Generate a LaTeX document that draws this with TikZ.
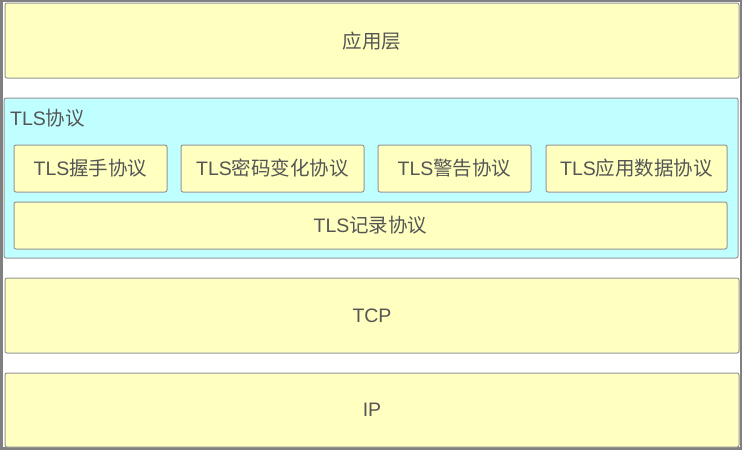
\documentclass[tikz,border=0pt]{standalone}
\usepackage{fontspec}
\setmainfont{Noto Sans CJK SC}
\newfontfamily\lat{Liberation Sans}
\newcommand{\TLS}{{\lat TLS}}
\begin{document}
\begin{tikzpicture}[x=1pt,y=-1pt,
  every node/.style={font=\fontsize{19.5}{22}\selectfont, text=txt, inner sep=0pt},
  ybox/.style={draw=bord, fill=yel, line width=1pt, rounded corners=2pt},
  cbox/.style={draw=bord, fill=cya, line width=1pt, rounded corners=2pt}]
\definecolor{yel}{RGB}{255,255,192}
\definecolor{cya}{RGB}{192,255,255}
\definecolor{bord}{RGB}{150,150,150}
\definecolor{frame}{RGB}{128,128,128}
\definecolor{txt}{RGB}{85,85,85}
\useasboundingbox (0,0) rectangle (742,450);
\fill[frame] (0,0) rectangle (742,450);
\fill[white] (3,2) rectangle (740,447);
% application layer
\draw[ybox] (5,3) rectangle (739,78);
\node (app) at (372,41) {应用层};
% TLS
\draw[cbox] (4,98) rectangle (738,258);
\node[anchor=west] (tls) at (10,118) {\TLS 协议};
\draw[ybox] (14,145) rectangle (167,192);
\node (hs) at (90.5,168.5) {\TLS 握手协议};
\draw[ybox] (181,145) rectangle (364,192);
\node (cc) at (272.5,168.5) {\TLS 密码变化协议};
\draw[ybox] (378,145) rectangle (531,192);
\node (al) at (454.5,168.5) {\TLS 警告协议};
\draw[ybox] (546,145) rectangle (727,192);
\node (ad) at (636.5,168.5) {\TLS 应用数据协议};
\draw[ybox] (14,202) rectangle (727,249);
\node (rec) at (370.5,225.5) {\TLS 记录协议};
% TCP
\draw[ybox] (5,278) rectangle (739,353);
\node (tcp) at (372,315.5) {\lat TCP};
% IP
\draw[ybox] (5,373) rectangle (739,447);
\node (ip) at (372,410) {\lat IP};
\end{tikzpicture}
\end{document}
